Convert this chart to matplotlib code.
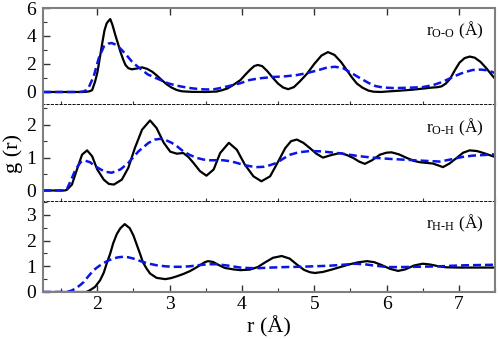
import numpy as np
import matplotlib
matplotlib.use('Agg')
import matplotlib.pyplot as plt
from matplotlib.ticker import MultipleLocator

plt.rcParams['font.family'] = 'serif'
plt.rcParams['font.serif'] = ['Liberation Serif', 'DejaVu Serif']
plt.rcParams['mathtext.fontset'] = 'custom'
plt.rcParams['mathtext.rm'] = 'Liberation Serif'
plt.rcParams['mathtext.it'] = 'Liberation Serif:italic'

# O-O
r_oo_solid = [1.25, 1.80, 1.86, 1.90, 1.93, 1.97, 2.00, 2.02, 2.065, 2.10, 2.13, 2.16, 2.18, 2.21, 2.25,
              2.29, 2.32, 2.36, 2.39, 2.43, 2.48, 2.55, 2.62, 2.69, 2.76, 2.83, 2.89, 2.96, 3.03, 3.10,
              3.17, 3.30, 3.50, 3.65, 3.72, 3.80, 3.88, 3.98, 4.05, 4.11, 4.17, 4.22, 4.28, 4.35, 4.43,
              4.50, 4.57, 4.64, 4.72, 4.80, 4.90, 5.00, 5.10, 5.19, 5.28, 5.37, 5.45, 5.52, 5.59, 5.67,
              5.75, 5.82, 5.92, 6.05, 6.20, 6.35, 6.50, 6.62, 6.70, 6.76, 6.82, 6.88, 6.95, 7.01, 7.08,
              7.15, 7.22, 7.30, 7.38, 7.45, 7.50]
g_oo_solid = [0.0, 0.0, 0.02, 0.06, 0.14, 0.74, 1.35, 1.93, 3.36, 4.40, 4.90, 5.10, 5.21, 4.80, 4.07,
              3.40, 2.88, 2.30, 1.93, 1.70, 1.62, 1.68, 1.76, 1.65, 1.45, 1.15, 0.86, 0.55, 0.31, 0.14,
              0.05, 0.01, 0.0, 0.03, 0.12, 0.25, 0.50, 0.85, 1.25, 1.57, 1.85, 1.93, 1.85, 1.50, 1.00,
              0.60, 0.32, 0.20, 0.35, 0.75, 1.30, 2.00, 2.60, 2.85, 2.65, 2.15, 1.57, 1.05, 0.60, 0.30,
              0.10, 0.02, 0.0, 0.05, 0.10, 0.16, 0.24, 0.31, 0.34, 0.40, 0.60, 0.95, 1.60, 2.10, 2.42,
              2.53, 2.45, 2.15, 1.70, 1.25, 0.95]
r_oo_dash = [1.25, 1.75, 1.80, 1.84, 1.88, 1.95, 2.02, 2.09, 2.15, 2.20, 2.27, 2.34, 2.41, 2.48, 2.55,
             2.62, 2.70, 2.80, 2.90, 2.98, 3.08, 3.17, 3.30, 3.42, 3.52, 3.62, 3.72, 3.80, 3.88, 3.98,
             4.11, 4.25, 4.43, 4.60, 4.75, 4.90, 5.05, 5.18, 5.29, 5.40, 5.50, 5.63, 5.75, 5.85, 5.95,
             6.10, 6.30, 6.50, 6.65, 6.75, 6.83, 6.95, 7.07, 7.19, 7.30, 7.40, 7.50]
g_oo_dash = [0.0, 0.0, 0.03, 0.10, 0.30, 1.10, 2.40, 3.24, 3.45, 3.50, 3.35, 3.00, 2.60, 2.17, 1.85,
             1.57, 1.25, 1.02, 0.80, 0.62, 0.48, 0.38, 0.27, 0.20, 0.18, 0.20, 0.30, 0.40, 0.50, 0.63,
             0.86, 0.98, 1.07, 1.12, 1.20, 1.35, 1.55, 1.75, 1.80, 1.70, 1.40, 1.00, 0.65, 0.42, 0.32,
             0.28, 0.30, 0.35, 0.50, 0.68, 0.86, 1.15, 1.40, 1.57, 1.60, 1.55, 1.35]

# O-H
r_oh_solid = [1.25, 1.55, 1.58, 1.65, 1.72, 1.79, 1.86, 1.93, 2.00, 2.09, 2.16, 2.23, 2.34, 2.43, 2.52,
              2.62, 2.73, 2.82, 2.92, 3.01, 3.10, 3.19, 3.26, 3.33, 3.42, 3.51, 3.61, 3.70, 3.82, 3.93,
              4.04, 4.16, 4.27, 4.39, 4.48, 4.60, 4.68, 4.76, 4.85, 4.94, 5.03, 5.12, 5.24, 5.36, 5.45,
              5.54, 5.62, 5.70, 5.80, 5.91, 6.00, 6.07, 6.17, 6.28, 6.38, 6.46, 6.55, 6.64, 6.72, 6.78,
              6.87, 6.97, 7.06, 7.15, 7.25, 7.34, 7.42, 7.50]
g_oh_solid = [0.0, 0.0, 0.02, 0.18, 0.64, 1.09, 1.22, 1.04, 0.64, 0.33, 0.20, 0.18, 0.33, 0.69, 1.29,
              1.85, 2.13, 1.90, 1.45, 1.18, 1.12, 1.14, 1.02, 0.84, 0.59, 0.45, 0.64, 1.14, 1.45, 1.24,
              0.79, 0.43, 0.28, 0.43, 0.79, 1.29, 1.50, 1.55, 1.45, 1.29, 1.12, 1.00, 1.08, 1.14, 1.08,
              0.99, 0.88, 0.81, 0.92, 1.09, 1.15, 1.16, 1.10, 0.99, 0.90, 0.86, 0.84, 0.82, 0.76, 0.71,
              0.82, 0.99, 1.15, 1.22, 1.20, 1.14, 1.08, 1.02]
r_oh_dash = [1.25, 1.55, 1.58, 1.63, 1.70, 1.77, 1.83, 1.90, 1.97, 2.04, 2.11, 2.20, 2.32, 2.43, 2.57,
             2.71, 2.80, 2.87, 2.95, 3.03, 3.10, 3.19, 3.28, 3.38, 3.47, 3.56, 3.65, 3.74, 3.84, 3.93,
             4.02, 4.11, 4.20, 4.30, 4.39, 4.48, 4.58, 4.67, 4.78, 4.94, 5.10, 5.36, 5.60, 5.80, 6.05,
             6.30, 6.55, 6.74, 6.90, 7.05, 7.19, 7.35, 7.50]
g_oh_dash = [0.0, 0.0, 0.04, 0.28, 0.64, 0.86, 0.91, 0.86, 0.74, 0.65, 0.57, 0.54, 0.64, 0.84, 1.19,
             1.45, 1.55, 1.57, 1.53, 1.45, 1.35, 1.19, 1.08, 0.99, 0.94, 0.92, 0.92, 0.92, 0.89, 0.84,
             0.78, 0.74, 0.71, 0.72, 0.77, 0.84, 0.98, 1.09, 1.16, 1.20, 1.19, 1.13, 1.05, 1.00, 0.96,
             0.93, 0.90, 0.88, 0.95, 1.02, 1.06, 1.08, 1.10]

# H-H
r_hh_solid = [1.25, 1.85, 1.90, 1.97, 2.04, 2.09, 2.13, 2.18, 2.22, 2.27, 2.32, 2.38, 2.45, 2.50, 2.54,
              2.59, 2.63, 2.68, 2.73, 2.82, 2.94, 3.02, 3.10, 3.19, 3.28, 3.35, 3.42, 3.48, 3.53, 3.60,
              3.68, 3.76, 3.88, 3.98, 4.11, 4.22, 4.32, 4.43, 4.55, 4.66, 4.76, 4.86, 4.94, 5.01, 5.12,
              5.24, 5.36, 5.48, 5.60, 5.73, 5.83, 5.93, 6.05, 6.16, 6.26, 6.38, 6.50, 6.60, 6.72, 6.83,
              7.00, 7.50]
g_hh_solid = [0.0, 0.0, 0.07, 0.20, 0.46, 0.75, 1.10, 1.50, 1.89, 2.25, 2.48, 2.64, 2.48, 2.20, 1.89,
              1.50, 1.17, 0.92, 0.72, 0.55, 0.50, 0.54, 0.61, 0.70, 0.81, 0.92, 1.04, 1.15, 1.20, 1.17,
              1.05, 0.94, 0.88, 0.85, 0.87, 0.97, 1.15, 1.33, 1.40, 1.30, 1.07, 0.86, 0.77, 0.74, 0.78,
              0.87, 0.97, 1.07, 1.15, 1.20, 1.16, 1.05, 0.90, 0.82, 0.88, 1.03, 1.10, 1.07, 1.00, 0.96,
              0.95, 0.95]
r_hh_dash = [1.25, 1.58, 1.63, 1.70, 1.76, 1.81, 1.88, 1.95, 2.02, 2.09, 2.15, 2.22, 2.29, 2.36, 2.43,
             2.50, 2.57, 2.63, 2.72, 2.82, 2.94, 3.05, 3.16, 3.28, 3.42, 3.55, 3.65, 3.80, 3.98, 4.11,
             4.25, 4.40, 4.60, 4.80, 5.00, 5.20, 5.40, 5.57, 5.72, 5.85, 6.02, 6.20, 6.40, 6.60, 6.74,
             6.90, 7.10, 7.30, 7.50]
g_hh_dash = [0.0, 0.0, 0.04, 0.13, 0.26, 0.38, 0.62, 0.85, 1.00, 1.13, 1.22, 1.30, 1.35, 1.37, 1.35,
             1.30, 1.23, 1.17, 1.10, 1.04, 1.00, 0.98, 0.98, 1.00, 1.05, 1.08, 1.08, 1.03, 0.95, 0.93,
             0.93, 0.95, 0.97, 0.98, 1.00, 1.02, 1.06, 1.10, 1.07, 1.02, 0.97, 0.97, 0.98, 0.99, 1.00,
             1.02, 1.04, 1.05, 1.06]

labels = ['O-O', 'O-H', 'H-H']
ylims = [(-0.93, 6.0), (-0.35, 2.6), (0.0, 3.5)]
ymajor = [2, 1, 1]
yminor = [1, 0.5, 0.5]

fig = plt.figure(figsize=(4.98, 3.39), dpi=100)
left, width = 43 / 498, 452 / 498
boxes = [(8, 105), (105, 202), (202, 292)]
series = [(r_oo_solid, g_oo_solid, r_oo_dash, g_oo_dash),
          (r_oh_solid, g_oh_solid, r_oh_dash, g_oh_dash),
          (r_hh_solid, g_hh_solid, r_hh_dash, g_hh_dash)]

spine_col = '#7f7f7f'
for i, (top_px, bot_px) in enumerate(boxes):
    ax = fig.add_axes([left, 1 - bot_px / 339, width, (bot_px - top_px) / 339])
    rs, gs, rd, gd = series[i]
    ax.plot(rs, gs, color='black', lw=1.6)
    ax.plot(rd, gd, color='#0a14e6', lw=1.8, dashes=(3.2, 1.6))
    ax.set_xlim(1.25, 7.5)
    ax.set_ylim(*ylims[i])
    ax.yaxis.set_major_locator(MultipleLocator(ymajor[i]))
    ax.yaxis.set_minor_locator(MultipleLocator(yminor[i]))
    ax.xaxis.set_major_locator(MultipleLocator(1))
    ax.xaxis.set_minor_locator(MultipleLocator(0.5))
    ax.tick_params(which='both', direction='in', colors='#333333', labelcolor='black',
                   labelsize=14, right=False)
    ax.tick_params(which='major', length=5, width=1)
    ax.tick_params(which='minor', length=3, width=0.8)
    ax.tick_params(axis='y', pad=5)
    for s in ['left', 'right', 'top', 'bottom']:
        ax.spines[s].set_color(spine_col)
        ax.spines[s].set_linewidth(1.5)
    if i == 0:
        ax.tick_params(axis='x', top=True, bottom=False, labelbottom=False)
    elif i == 1:
        ax.tick_params(axis='x', top=False, bottom=False, labelbottom=False)
    else:
        ax.tick_params(axis='x', top=False, bottom=True, labelbottom=True, pad=3)
        ax.set_xlabel('r (Å)', fontsize=16, labelpad=2)
    if i < 2:
        # dotted separator between panels
        ax.spines['bottom'].set_color('black')
        ax.spines['bottom'].set_linewidth(1.3)
        ax.spines['bottom'].set_linestyle((0, (0.8, 1.6)))
    if i > 0:
        ax.spines['top'].set_visible(False)
    if i == 1:
        ax.set_ylabel('g (r)', fontsize=16)
        ax.yaxis.set_label_coords(-0.045, 0.5)
    ax.text(0.975, 0.88, r'r$_{\mathrm{%s}}$ (Å)' % labels[i].replace('-', r'\text{-}'),
            transform=ax.transAxes, ha='right', va='top', fontsize=12.5)

fig.savefig('out.png', dpi=100)
